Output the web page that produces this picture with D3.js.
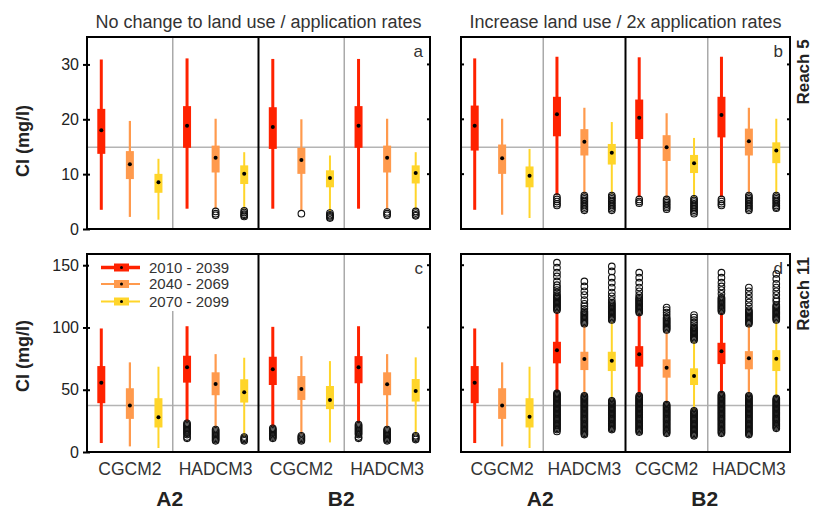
<!DOCTYPE html>
<html>
<head>
<meta charset="utf-8">
<script src="https://cdn.jsdelivr.net/npm/d3@7"></script>
<style>
  body { margin: 0; background: #fff; }
  svg { font-family: "Liberation Sans", Arial, sans-serif; }
</style>
</head>
<body>
<div id="chart"></div>
<script>
// Categories
const periods = ["2010 - 2039", "2040 - 2069", "2070 - 2099"];
const periodColors = ["#ff2200", "#ff9a4d", "#ffd52a"];
const models = ["CGCM2", "HADCM3", "CGCM2", "HADCM3"];
const scenarios = ["A2", "B2"];
const titles = ["No change to land use / application rates", "Increase land use / 2x application rates"];
const reaches = ["Reach 5", "Reach 11"];

// Reference lines (mg/l)
const refReach5 = 14.9;
const refReach11 = 37.3;

// Tick values
const ticksReach5 = [0, 10, 20, 30];
const ticksReach11 = [0, 50, 100, 150];

// Box stats per box: [whisker low, q1, median, q3, whisker high]
// order: A2-CGCM2 x3 periods, A2-HADCM3, B2-CGCM2, B2-HADCM3
const statsA = [
  [3.5, 13.7, 18.0, 21.9, 30.9], [2.2, 9.1, 11.8, 14.2, 19.7], [1.7, 6.6, 8.5, 10.05, 12.8],
  [3.7, 14.8, 18.8, 22.4, 31.1], [3.7, 10.3, 13.0, 15.2, 20.1], [3.7, 8.2, 10.05, 11.6, 14.0],
  [3.7, 14.6, 18.6, 22.2, 31.0], [3.4, 10.05, 12.6, 14.8, 20.0], [3.3, 7.6, 9.3, 10.7, 13.4],
  [3.7, 14.8, 18.8, 22.4, 31.0], [3.6, 10.3, 13.0, 15.2, 20.1], [3.6, 8.3, 10.2, 11.6, 14.0]
];
const outA = [
  [], [], [],
  [], [3.2, 2.8, 2.5], [3.3, 3.0, 2.7, 2.5, 2.3],
  [], [2.8], [2.9, 2.6, 2.4, 2.2, 2.0],
  [], [3.1, 2.8, 2.5], [3.2, 2.9, 2.6, 2.4]
];

const statsB = [
  [3.5, 14.3, 18.8, 22.5, 31.1], [2.6, 10.05, 12.9, 15.4, 20.1], [2.0, 7.6, 9.7, 11.4, 14.6],
  [6.2, 16.9, 20.9, 24.1, 31.4], [6.4, 13.4, 15.9, 18.2, 22.1], [6.4, 11.75, 13.9, 15.5, 19.5],
  [5.8, 16.4, 20.3, 23.6, 31.3], [5.7, 12.4, 14.9, 17.1, 21.1], [5.8, 10.2, 12.0, 13.5, 16.6],
  [5.8, 16.7, 20.8, 24.1, 31.4], [6.4, 13.4, 16.0, 18.3, 22.1], [6.4, 12.0, 14.3, 15.8, 20.1]
];
const outB = [
  [], [], [],
  [5.8, 5.4, 5.0, 4.6, 4.3], [6.1, 5.8, 5.5, 5.2, 4.9, 4.6, 4.3, 4.0, 3.7, 3.4], [6.1, 5.8, 5.5, 5.2, 4.9, 4.6, 4.3, 4.0, 3.7, 3.4],
  [5.4, 5.0, 4.7], [5.4, 5.1, 4.8, 4.5, 4.2, 3.9, 3.6], [5.5, 5.2, 4.9, 4.6, 4.3, 4.0, 3.7, 3.4, 3.1, 2.8],
  [5.4, 5.0, 4.6, 4.3], [6.1, 5.8, 5.5, 5.2, 4.9, 4.6, 4.3, 4.0, 3.7, 3.4], [6.1, 5.8, 5.5, 5.2, 4.9, 4.6, 4.3, 4.0, 3.8]
];

const statsC = [
  [7.2, 39.2, 55.7, 69.0, 99.2], [4.5, 26.6, 37.3, 51.2, 72.0], [3.2, 19.7, 28.0, 43.2, 68.5],
  [24.5, 55.7, 68.0, 77.3, 101.0], [19.2, 45.6, 54.6, 64.0, 78.6], [12.5, 39.7, 48.0, 58.4, 75.7],
  [20.5, 53.8, 66.4, 76.5, 100.5], [14.4, 41.8, 50.6, 61.0, 77.0], [7.7, 34.4, 41.8, 53.0, 73.0],
  [23.2, 55.2, 68.0, 77.0, 101.0], [19.7, 45.6, 54.4, 64.0, 78.6], [13.8, 40.5, 49.0, 58.6, 76.0]
];
const outC = [
  [], [], [],
  [23, 22, 21, 20, 19, 18, 17, 16, 15, 14, 12, 11], [18, 17, 16, 15, 14, 13, 12, 11, 10, 9], [12, 11, 10, 9],
  [19, 18, 17, 16, 15, 14, 13, 12, 11], [13, 12, 11, 10, 9], [],
  [22, 21, 20, 19, 18, 17, 16, 15, 14, 12, 11], [18, 17, 16, 15, 14, 13, 12, 11, 10, 9], [13, 12, 11, 10]
];

const statsD = [
  [7.2, 39.2, 55.7, 69.0, 99.2], [4.5, 26.6, 37.3, 51.2, 72.0], [3.2, 19.7, 28.3, 43.2, 68.5],
  [48.5, 71.2, 81.8, 88.5, 112.5], [45.8, 65.8, 74.6, 80.5, 101.8], [42.4, 65.0, 73.3, 80.5, 104.5],
  [45.8, 68.5, 78.4, 85.0, 111.2], [39.2, 59.7, 67.7, 74.4, 96.5], [33.8, 53.8, 61.0, 67.2, 88.5],
  [47.2, 70.6, 81.0, 87.7, 111.7], [46.4, 66.4, 75.2, 81.0, 101.8], [44.5, 65.0, 74.9, 81.8, 104.5]
];
const outD = [
  [], [], [],
  [47, 46, 45, 44, 43, 42, 41, 40, 39, 38, 37, 36, 35, 34, 33, 32, 31, 30, 29, 28, 27, 26, 25, 24, 23, 22, 21, 20, 19, 18, 16.5,
   114, 115, 116, 117, 118, 119, 120, 121, 122, 123, 124, 125, 126, 128, 130, 132, 134, 137, 141, 144, 148, 152],
  [45, 44, 43, 42, 41, 40, 39, 38, 37, 36, 35, 34, 33, 32, 31, 30, 29, 28, 27, 26, 25, 24, 23, 22, 21, 20, 19, 18, 17, 16, 15, 14,
   103, 104, 105, 106, 107, 108, 109, 110, 111, 112, 113, 115, 117, 119, 122, 126, 129, 133, 137],
  [41, 40, 39, 38, 37, 36, 35, 34, 33, 32, 31, 30, 29, 28, 27, 26, 25, 24, 23, 22, 21, 20, 19, 18,
   106, 107, 108, 109, 110, 111, 112, 113, 114, 115, 116, 117, 118, 119, 120, 122, 125, 128, 132, 136, 140, 145, 149],
  [45, 44, 43, 42, 41, 40, 39, 38, 37, 36, 35, 34, 33, 32, 31, 30, 29, 28, 27, 26, 25, 24, 23, 22, 21, 20, 19, 18, 17, 16,
   112, 113, 114, 115, 116, 117, 118, 119, 120, 121, 122, 123, 124, 126, 129, 132, 136, 140, 144],
  [38, 37, 36, 35, 34, 33, 32, 31, 30, 29, 28, 27, 26, 25, 24, 23, 22, 21, 20, 19, 18, 17, 16, 15,
   98, 99, 100, 101, 102, 103, 104, 105, 106, 107, 108, 110, 112, 114, 116],
  [33, 32, 31, 30, 29, 28, 27, 26, 25, 24, 23, 22, 21, 20, 19, 18, 17, 16, 15, 14, 13,
   90, 91, 92, 93, 94, 95, 96, 97, 98, 99, 100, 102, 104, 106, 108, 110],
  [46, 45, 44, 43, 42, 41, 40, 39, 38, 37, 36, 35, 34, 33, 32, 31, 30, 29, 28, 27, 26, 25, 24, 23, 22, 21, 20, 19, 18, 17, 16, 15,
   113, 114, 115, 116, 117, 118, 119, 120, 121, 122, 123, 124, 127, 130, 133, 136, 140, 144],
  [45, 44, 43, 42, 41, 40, 39, 38, 37, 36, 35, 34, 33, 32, 31, 30, 29, 28, 27, 26, 25, 24, 23, 22, 21, 20, 19, 18, 17, 16, 15, 14,
   103, 104, 105, 106, 107, 108, 109, 110, 111, 112, 113, 114, 117, 120, 123, 126, 129, 132],
  [43, 42, 41, 40, 39, 38, 37, 36, 35, 34, 33, 32, 31, 30, 29, 28, 27, 26, 25, 24, 23, 22, 21, 20, 19,
   106, 107, 108, 109, 110, 111, 112, 113, 114, 115, 116, 117, 118, 121, 123, 126, 129, 132, 135, 139, 143]
];

const width = 813, height = 510;
const textColor = "#333";
const whiskerWidths = [3, 2.2, 2];

const svg = d3.select("#chart").append("svg")
  .attr("width", width)
  .attr("height", height);

const panels = [
  {id: "a", stats: statsA, out: outA, x0: 87, x1: 430, y0: 37, y1: 229, ymax: 35, ticks: ticksReach5, ref: refReach5, row: 0, col: 0},
  {id: "b", stats: statsB, out: outB, x0: 461, x1: 790, y0: 37, y1: 229, ymax: 35, ticks: ticksReach5, ref: refReach5, row: 0, col: 1},
  {id: "c", stats: statsC, out: outC, x0: 87, x1: 430, y0: 254, y1: 452, ymax: 159, ticks: ticksReach11, ref: refReach11, row: 1, col: 0},
  {id: "d", stats: statsD, out: outD, x0: 461, x1: 790, y0: 254, y1: 452, ymax: 159, ticks: ticksReach11, ref: refReach11, row: 1, col: 1}
];

function drawPanel(p) {
  const g = svg.append("g");
  const x = d3.scaleLinear().domain([0.5, 12.5]).range([p.x0, p.x1]);
  const y = d3.scaleLinear().domain([0, p.ymax]).range([p.y1, p.y0]);

  const boxes = p.stats.map((s, i) => ({
    pos: i + 1, period: i % 3, lo: s[0], q1: s[1], med: s[2], q3: s[3], hi: s[4], out: p.out[i]
  }));

  // reference line
  g.append("line")
    .attr("x1", p.x0).attr("x2", p.x1)
    .attr("y1", y(p.ref)).attr("y2", y(p.ref))
    .attr("stroke", "#b4b4b4").attr("stroke-width", 1.6);

  // group separators
  [3.5, 6.5, 9.5].forEach(s => {
    const major = s === 6.5;
    let top = p.y0;
    if (p.id === "c" && s === 3.5) top = 311;
    g.append("line")
      .attr("x1", x(s)).attr("x2", x(s))
      .attr("y1", top).attr("y2", p.y1)
      .attr("stroke", major ? "#000" : "#aaa")
      .attr("stroke-width", major ? 2 : 1.5);
  });

  // whiskers
  g.selectAll(".whisker").data(boxes).enter().append("line")
    .attr("x1", d => x(d.pos)).attr("x2", d => x(d.pos))
    .attr("y1", d => y(d.lo)).attr("y2", d => y(d.hi))
    .attr("stroke", d => periodColors[d.period])
    .attr("stroke-width", d => whiskerWidths[d.period]);

  // boxes
  g.selectAll(".box").data(boxes).enter().append("rect")
    .attr("x", d => x(d.pos) - 4)
    .attr("width", 8)
    .attr("y", d => y(d.q3))
    .attr("height", d => y(d.q1) - y(d.q3))
    .attr("fill", d => periodColors[d.period]);

  // outliers
  boxes.forEach(d => {
    g.selectAll(null).data(d.out).enter().append("circle")
      .attr("cx", x(d.pos))
      .attr("cy", v => y(v))
      .attr("r", 3.3)
      .attr("fill", "none")
      .attr("stroke", "#111")
      .attr("stroke-width", 1.1);
  });

  // medians
  g.selectAll(".median").data(boxes).enter().append("circle")
    .attr("cx", d => x(d.pos))
    .attr("cy", d => y(d.med))
    .attr("r", 2)
    .attr("fill", "#000");

  // frame
  g.append("rect")
    .attr("x", p.x0).attr("y", p.y0)
    .attr("width", p.x1 - p.x0).attr("height", p.y1 - p.y0)
    .attr("fill", "none").attr("stroke", "#000").attr("stroke-width", 2);

  // y ticks
  if (p.col === 0) {
    const yAxis = d3.axisLeft(y).tickValues(p.ticks).tickSize(4).tickPadding(6);
    const ax = g.append("g")
      .attr("transform", `translate(${p.x0 + 3},0)`)
      .call(yAxis);
    ax.select(".domain").remove();
    ax.selectAll("line").attr("stroke", "#000").attr("stroke-width", 2).attr("x1", 0).attr("x2", -7);
    ax.selectAll("text")
      .attr("fill", "#222")
      .style("font-size", "16px")
      .style("font-family", "inherit")
      .attr("x", -11);
  } else {
    g.selectAll(".ltick").data(p.ticks.filter(t => t > 0)).enter().append("line")
      .attr("x1", p.x0).attr("x2", p.x0 + 3)
      .attr("y1", d => y(d)).attr("y2", d => y(d))
      .attr("stroke", "#000").attr("stroke-width", 2);
  }
  g.selectAll(".rtick").data(p.ticks.filter(t => t > 0)).enter().append("line")
    .attr("x1", p.x1 - 3).attr("x2", p.x1)
    .attr("y1", d => y(d)).attr("y2", d => y(d))
    .attr("stroke", "#000").attr("stroke-width", 2);

  // panel letter
  g.append("text")
    .attr("x", p.x1 - 7)
    .attr("y", p.y0 + 20)
    .attr("text-anchor", "end")
    .attr("fill", textColor)
    .style("font-size", "17px")
    .text(p.id);

  // bottom labels
  if (p.row === 1) {
    g.selectAll(".model").data(models).enter().append("text")
      .attr("x", (d, i) => x(i * 3 + 2))
      .attr("y", 475)
      .attr("text-anchor", "middle")
      .attr("fill", textColor)
      .style("font-size", "17.5px")
      .text(d => d);
    g.selectAll(".scen").data(scenarios).enter().append("text")
      .attr("x", (d, i) => x(i * 6 + 3.5) - 3)
      .attr("y", 506)
      .attr("text-anchor", "middle")
      .attr("fill", "#222")
      .style("font-size", "21px")
      .style("font-weight", "bold")
      .text(d => d);
  }

  if (p.row === 0) {
    g.append("text")
      .attr("x", (p.x0 + p.x1) / 2)
      .attr("y", 28)
      .attr("text-anchor", "middle")
      .attr("fill", textColor)
      .style("font-size", "18px")
      .text(titles[p.col]);
  }

  if (p.col === 0) {
    g.append("text")
      .attr("transform", `translate(29,${p.row === 0 ? 141 : 356}) rotate(-90)`)
      .attr("text-anchor", "middle")
      .attr("fill", "#222")
      .style("font-size", "18px")
      .style("font-weight", "bold")
      .text("Cl (mg/l)");
  } else {
    g.append("text")
      .attr("transform", `translate(809,${p.row === 0 ? 72 : 294}) rotate(-90)`)
      .attr("text-anchor", "middle")
      .attr("fill", "#222")
      .style("font-size", "17px")
      .style("font-weight", "bold")
      .text(reaches[p.row]);
  }
}

panels.forEach(drawPanel);

// Legend (panel c)
const legend = svg.append("g");
legend.append("rect")
  .attr("x", 89).attr("y", 256)
  .attr("width", 150).attr("height", 55)
  .attr("fill", "#fff");
const legendRows = [267.5, 284, 301.5];
periods.forEach((name, i) => {
  const ly = legendRows[i];
  legend.append("line")
    .attr("x1", 101).attr("x2", 140)
    .attr("y1", ly).attr("y2", ly)
    .attr("stroke", periodColors[i])
    .attr("stroke-width", i === 0 ? 3.5 : 2);
  legend.append("rect")
    .attr("x", 114).attr("y", ly - 4)
    .attr("width", 15).attr("height", 8)
    .attr("fill", periodColors[i]);
  legend.append("circle")
    .attr("cx", 121.5).attr("cy", ly)
    .attr("r", 1.5).attr("fill", "#000");
  legend.append("text")
    .attr("x", 149).attr("y", ly)
    .attr("dy", "0.35em")
    .attr("fill", textColor)
    .style("font-size", "15px")
    .text(name);
});
</script>
</body>
</html>
